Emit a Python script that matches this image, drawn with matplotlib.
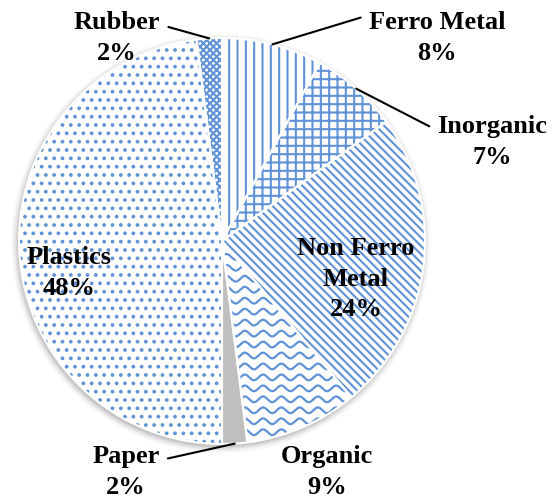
import numpy as np
import matplotlib
matplotlib.use('Agg')
import matplotlib.pyplot as plt
from matplotlib.patches import Circle

# 数据
labels = ['Ferro Metal', 'Inorganic', 'Non Ferro\nMetal', 'Organic', 'Paper', 'Plastics', 'Rubber']
values = [8, 7, 24, 9, 2, 48, 2]

blue = '#5f92d6'
hatches = ['||', '++', '\\\\\\\\', '', '', '..', 'xxxxx']
faces = ['white', 'white', 'white', 'white', '#bfbfbf', 'white', 'white']

# 标签位置 (像素, 图片左上角为原点)
label_px = [(437, 38), (492, 142), (356, 279), (327, 472), (126, 472), (69, 273), (117, 38)]
# 引线起点 (相对文字框), None 表示无引线
line_rel = [(0.0, 0.93), (0.0, 0.72), None, None, (1.0, 0.72), None, (1.0, 0.75)]

W, H = 552, 500
cx, cy, R = 222, 241, 203


def px(x, y):
    # 像素坐标 -> 数据坐标 (饼图半径为1)
    return (x - cx) / R, (cy - y) / R


plt.rcParams['hatch.linewidth'] = 1.5
fig = plt.figure(figsize=(W / 100, H / 100), dpi=100)
ax = fig.add_axes([0, 0, 1, 1])

# 阴影
for r, a in zip(np.linspace(1.0, 1.035, 7), np.linspace(0.06, 0.01, 7)):
    ax.add_patch(Circle((-0.006, -0.012), r, color='k', alpha=a, lw=0, zorder=0))

wedges, _ = ax.pie(values, startangle=90, counterclock=False, radius=1,
                   wedgeprops=dict(linewidth=0, edgecolor=blue))
for w, h, f in zip(wedges, hatches, faces):
    w.set_facecolor(f)
    w.set_hatch(h)
    w.set_zorder(2)

# 白色分隔线
edges, _ = ax.pie(values, startangle=90, counterclock=False, radius=1,
                  wedgeprops=dict(fill=False, linewidth=1.5, edgecolor='white'))
for e in edges:
    e.set_zorder(4)

# pie() 会改坐标范围, 之后再设
ax.set_aspect('auto')
ax.set_xlim(-cx / R, (W - cx) / R)
ax.set_ylim(-(H - cy) / R, cy / R)
ax.axis('off')

# Organic 波浪纹
org = wedges[3]
xs = np.linspace(-1.05, 1.05, 600)
for y0 in np.arange(-1.05, 1.05, 0.054):
    ln, = ax.plot(xs, y0 + 0.014 * np.sin(xs / 0.09 * 2 * np.pi), color=blue, lw=1.6, zorder=3)
    ln.set_clip_path(org)

# 标签
for w, lab, v, pos, rel in zip(wedges, labels, values, label_px, line_rel):
    txt = '%s\n%d%%' % (lab, v)
    tx, ty = px(*pos)
    if rel is None:
        ax.text(tx, ty, txt, ha='center', va='center', fontsize=19, fontweight='bold',
                family='Liberation Serif', linespacing=1.4, zorder=5)
    else:
        ang = np.deg2rad((w.theta1 + w.theta2) / 2)
        ax.annotate(txt, xy=(np.cos(ang), np.sin(ang)), xytext=(tx, ty),
                    ha='center', va='center', fontsize=19, fontweight='bold',
                    family='Liberation Serif', linespacing=1.4, zorder=5,
                    arrowprops=dict(arrowstyle='-', color='black', lw=1.5,
                                    relpos=rel, shrinkA=4, shrinkB=0))

fig.savefig('out.png', dpi=100)
